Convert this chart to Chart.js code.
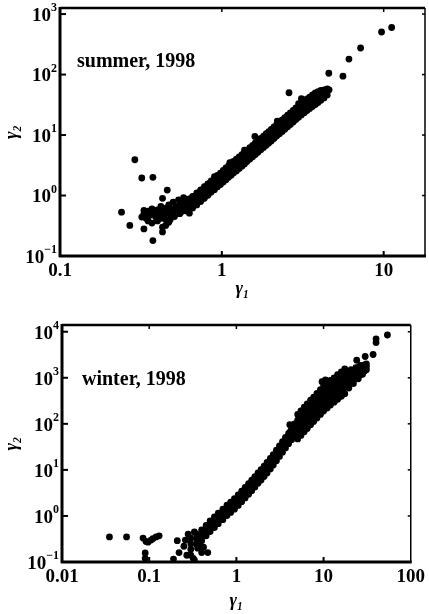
<!DOCTYPE html>
<html>
<head>
<meta charset="utf-8">
<script src="https://cdn.jsdelivr.net/npm/chart.js@4"></script>
<style>
  html, body { margin: 0; padding: 0; background: #fff; }
  canvas { display: block; }
</style>
</head>
<body>
<canvas id="summer" width="429" height="300"></canvas>
<canvas id="winter" width="429" height="314"></canvas>
<script>
// summer 1998: gamma1 vs gamma2
const summerBand = [
  [0.60,0.56],[0.60,0.66],[0.60,0.78],[0.64,0.63],[0.64,0.75],[0.64,0.89],
  [0.68,0.70],[0.68,0.83],[0.68,0.98],[0.72,0.79],[0.72,0.94],[0.72,1.11],
  [0.76,0.89],[0.76,1.06],[0.76,1.25],[0.80,1.00],[0.80,1.20],[0.80,1.42],
  [0.84,1.12],[0.84,1.34],[0.84,1.58],[0.88,1.25],[0.88,1.49],[0.88,1.76],
  [0.92,1.38],[0.92,1.65],[0.92,1.95],[0.96,1.52],[0.96,1.82],[0.96,2.15],
  [1.00,1.68],[1.00,2.00],[1.00,2.36],[1.04,1.84],[1.04,2.19],[1.04,2.58],
  [1.08,2.00],[1.08,2.39],[1.08,2.82],[1.12,2.18],[1.12,2.60],[1.12,3.07],
  [1.16,2.37],[1.16,2.82],[1.16,3.33],[1.20,2.55],[1.20,3.04],[1.20,3.60],
  [1.25,2.80],[1.25,3.35],[1.25,3.95],[1.30,3.08],[1.30,3.67],[1.30,4.33],
  [1.35,3.36],[1.35,4.00],[1.35,4.72],[1.40,3.62],[1.40,4.30],[1.40,5.10],
  [1.46,4.00],[1.46,4.80],[1.46,5.65],[1.52,4.38],[1.52,5.20],[1.52,6.15],
  [1.58,4.80],[1.58,5.70],[1.58,6.72],[1.64,5.20],[1.64,6.20],[1.64,7.30],
  [1.70,5.70],[1.70,6.80],[1.70,8.00],[1.77,6.25],[1.77,7.40],[1.77,8.75],
  [1.84,6.80],[1.84,8.10],[1.84,9.60],[1.91,7.40],[1.91,8.80],[1.91,10.4],
  [1.98,8.05],[1.98,9.60],[1.98,11.3],[2.06,8.80],[2.06,10.5],[2.06,12.4],
  [2.14,9.60],[2.14,11.5],[2.14,13.5],[2.22,10.5],[2.22,12.5],[2.22,14.7],
  [2.31,11.5],[2.31,13.7],[2.31,16.1],[2.40,12.5],[2.40,14.9],[2.40,17.6],
  [2.50,13.7],[2.50,16.4],[2.50,19.3],[2.60,15.0],[2.60,17.9],[2.60,21.1],
  [2.70,16.4],[2.70,19.6],[2.70,23.1],[2.81,18.0],[2.81,21.5],[2.81,25.3],
  [2.92,19.7],[2.92,23.5],[2.92,27.7],[3.04,21.6],[3.04,25.8],[3.04,30.4],
  [3.16,23.6],[3.16,28.0],[3.16,33.0],[3.29,25.8],[3.29,30.5],[3.29,35.8],
  [3.42,28.0],[3.42,33.0],[3.42,38.5],[3.56,30.5],[3.56,35.5],[3.56,41.5],
  [3.70,33.0],[3.70,38.5],[3.70,44.5],[3.85,36.0],[3.85,41.5],[3.85,47.5],
  [4.00,39.0],[4.00,44.0],[4.00,50.0],[4.18,42.5],[4.18,47.5],[4.18,53.0],
  [4.38,46.0],[4.38,51.0],[4.38,55.0],[4.60,56.0]
];
// second, staggered pass over the band to give it its scanned thickness
const summerBandEdge = [
  [0.62,0.55],[0.62,0.87],[0.66,0.62],[0.66,0.97],[0.70,0.70],[0.70,1.10],
  [0.74,0.80],[0.74,1.24],[0.78,0.90],[0.78,1.40],[0.82,1.01],[0.82,1.56],
  [0.86,1.14],[0.86,1.75],[0.90,1.25],[0.90,2.05],[0.94,1.40],[0.94,2.15],
  [0.98,1.52],[0.98,2.35],[1.02,1.68],[1.02,2.60],[1.06,1.83],[1.06,2.85],
  [1.10,2.00],[1.10,3.10],[1.14,2.17],[1.14,3.45],[1.18,2.35],[1.18,3.65],
  [1.23,2.55],[1.23,3.98],[1.28,2.80],[1.28,4.35],[1.33,3.06],[1.33,4.75],
  [1.38,3.32],[1.38,5.60],[1.43,3.64],[1.43,5.65],[1.49,4.00],[1.49,6.20],
  [1.55,4.36],[1.55,6.75],[1.61,4.76],[1.61,7.40],[1.67,5.20],[1.67,8.10],
  [1.74,5.70],[1.74,8.80],[1.81,6.20],[1.81,9.60],[1.88,6.75],[1.88,10.5],
  [1.95,7.35],[1.95,11.4],[2.02,8.00],[2.02,12.4],[2.10,8.80],[2.10,13.6],
  [2.18,9.60],[2.18,14.9],[2.27,10.5],[2.27,16.3],[2.36,11.4],[2.36,17.8],
  [2.45,12.5],[2.45,19.4],[2.55,13.7],[2.55,21.3],[2.65,15.0],[2.65,23.3],
  [2.76,16.4],[2.76,25.5],[2.87,18.0],[2.87,28.0],[2.98,19.7],[2.98,33.0],
  [3.10,21.5],[3.10,33.5],[3.23,23.4],[3.23,36.3],[3.36,25.4],[3.36,39.4],
  [3.49,27.4],[3.49,42.5],[3.63,29.6],[3.63,46.0],[3.78,32.0],[3.78,49.5],
  [3.93,34.5],[3.93,52.0],[4.09,37.5],[4.09,54.5],[4.28,41.0],[4.28,56.0],
  [4.48,46.0],[4.48,58.0],[2.20,17.0],[1.12,3.50]
];
const summerLow = [
  [0.33,0.50],[0.34,0.42],[0.35,0.55],[0.35,0.38],[0.36,0.47],[0.37,0.60],
  [0.37,0.35],[0.38,0.52],[0.39,0.44],[0.40,0.58],[0.40,0.38],[0.41,0.50],
  [0.42,0.66],[0.42,0.42],[0.43,0.55],[0.44,0.47],[0.45,0.62],[0.45,0.40],
  [0.46,0.54],[0.47,0.70],[0.48,0.48],[0.49,0.60],[0.50,0.78],[0.50,0.52],
  [0.52,0.66],[0.53,0.58],[0.54,0.85],[0.55,0.70],[0.56,0.60],[0.57,0.78],
  [0.58,0.92],[0.58,0.66],[0.45,0.32],[0.47,0.36],[0.43,0.30],[0.63,0.51],
  [0.51,0.45],[0.55,0.50],[0.57,0.55],[0.48,0.40]
];
const summerOutliers = [
  [0.24,0.53],[0.27,0.32],[0.29,3.9],[0.32,1.95],[0.375,2.0],[0.32,0.44],
  [0.33,0.57],[0.33,0.28],[0.375,0.18],[0.43,0.25],[0.46,1.23],[0.43,0.9],
  [1.6,9.5],[2.6,50],[3.1,40],[4.58,105],[5.6,94],[6.1,180],[7.2,275],
  [9.7,505],[11.2,600]
];

// winter 1998
const winterBand = [
  [0.30,0.19],[0.30,0.25],[0.30,0.33],[0.35,0.24],[0.35,0.31],[0.35,0.40],
  [0.40,0.29],[0.40,0.38],[0.40,0.50],[0.45,0.37],[0.45,0.48],[0.45,0.62],
  [0.50,0.46],[0.50,0.60],[0.50,0.78],[0.56,0.56],[0.56,0.73],[0.56,0.95],
  [0.62,0.68],[0.62,0.88],[0.62,1.15],[0.70,0.83],[0.70,1.08],[0.70,1.40],
  [0.78,1.02],[0.78,1.32],[0.78,1.72],[0.86,1.19],[0.86,1.55],[0.86,2.0],
  [0.95,1.40],[0.95,1.82],[0.95,2.37],[1.05,1.69],[1.05,2.2],[1.05,2.86],
  [1.15,2.04],[1.15,2.65],[1.15,3.45],[1.26,2.46],[1.26,3.2],[1.26,4.16],
  [1.38,2.96],[1.38,3.85],[1.38,5.0],[1.50,3.54],[1.50,4.6],[1.50,6.0],
  [1.63,4.23],[1.63,5.5],[1.63,7.15],[1.77,5.1],[1.77,6.6],[1.77,8.6],
  [1.92,6.0],[1.92,7.8],[1.92,10.1],[2.08,7.15],[2.08,9.3],[2.08,12.1],
  [2.25,8.6],[2.25,11.2],[2.25,14.6],[2.45,10.5],[2.45,13.6],[2.45,17.7],
  [2.65,12.7],[2.65,16.5],[2.65,21.5],[2.88,15.8],[2.88,20.5],[2.88,26.7],
  [3.12,19.6],[3.12,25.5],[3.12,33.2],[3.38,24.2],[3.38,31.5],[3.38,41],
  [3.66,30],[3.66,39],[3.66,51],[3.97,37],[3.97,48],[3.97,62],
  [4.30,45],[4.30,59],[4.30,77],[4.66,52],[4.66,73],[4.66,100],
  [5.05,47],[5.05,67],[5.05,90],[5.05,121],[5.05,160],
  [5.50,56],[5.50,79],[5.50,107],[5.50,144],[5.50,190],
  [6.0,67],[6.0,95],[6.0,128],[6.0,173],[6.0,230],
  [6.5,79],[6.5,111],[6.5,150],[6.5,203],[6.5,270],
  [7.1,95],[7.1,133],[7.1,180],[7.1,243],[7.1,325],
  [7.7,112],[7.7,157],[7.7,212],[7.7,286],[7.7,380],
  [8.4,134],[8.4,189],[8.4,255],[8.4,344],[8.4,460],
  [9.2,160],[9.2,226],[9.2,305],[9.2,412],[9.2,550],
  [10.0,190],[10.0,267],[10.0,360],[10.0,486],[10.0,650],
  [11.0,221],[11.0,311],[11.0,420],[11.0,567],[11.0,755],
  [12.0,255],[12.0,359],[12.0,485],[12.0,655],[12.0,875],
  [13.2,295],[13.2,415],[13.2,560],[13.2,756],[13.2,1000],
  [14.5,342],[14.5,481],[14.5,650],[14.5,878],[14.5,1170],
  [16.0,395],[16.0,556],[16.0,750],[16.0,1010],[16.0,1350],
  [17.5,450],[17.5,637],[17.5,860],[17.5,1160],[17.5,1550],
  [19.5,600],[19.5,740],[19.5,1000],[19.5,1350],
  [22,750],[22,900],[22,1150],[22,1450],
  [25,950],[25,1150],[25,1350],[25,1650],
  [28,1200],[28,1550],[28,1800],[31,1500],[31,1750],[31,2000],
  [9.6,820],[10.5,900]
];
// staggered fill of the wide upper cloud
const winterCloud = [
  [5.28,61],[5.28,85],[5.28,113],[5.28,157],
  [5.75,73],[5.75,102],[5.75,135],[5.75,187],
  [6.25,87],[6.25,121],[6.25,160],[6.25,222],
  [6.8,103],[6.8,143],[6.8,190],[6.8,264],
  [7.4,122],[7.4,170],[7.4,225],[7.4,314],
  [8.05,146],[8.05,203],[8.05,268],[8.05,373],
  [8.8,175],[8.8,243],[8.8,322],[8.8,448],
  [9.6,207],[9.6,289],[9.6,531],
  [10.5,244],[10.5,339],[10.5,624],
  [11.5,282],[11.5,393],[11.5,520],[11.5,723],
  [12.6,326],[12.6,454],[12.6,600],[12.6,835],
  [13.85,378],[13.85,526],[13.85,696],[13.85,968],
  [15.2,437],[15.2,609],[15.2,805],[15.2,1120],
  [16.7,503],[16.7,700],[16.7,926],[16.7,1290],
  [18.5,640],[18.5,810],[18.5,1070],[18.5,1400],
  [20.7,780],[20.7,935],[20.7,1240],[20.7,1500],
  [23.5,950],[23.5,1090],[23.5,1420],[23.5,1650],
  [26.5,1150],[26.5,1300],[26.5,1600],[26.5,1850],
  [29.5,1400],[29.5,1550],[29.5,1900],
  [4.48,62],[4.48,88],[4.15,52],[4.15,68]
];
const winterOutliers = [
  [0.035,0.35],[0.055,0.35],[0.085,0.33],[0.092,0.28],[0.097,0.27],[0.105,0.30],
  [0.11,0.32],[0.12,0.35],[0.13,0.37],[0.09,0.157],[0.09,0.12],[0.21,0.29],
  [0.22,0.16],[0.19,0.116],[0.32,0.12],[0.47,0.16],[0.25,0.22],[0.27,0.14],
  [0.28,0.40],[0.33,0.11],[0.36,0.2],[0.40,0.16],[0.30,0.14],[0.26,0.30],
  [0.33,0.45],[0.38,0.25],[0.42,0.21],[4.1,96],
  [24,2400],[30,2900],[37,3200],[40,5800],[40,7000],[54,8500]
];

const summerXTicks = [0.1, 1, 10];
const summerXLabels = ['0.1', '1', '10'];
const summerYTicks = [0.1, 1, 10, 100, 1000];
const summerYExp = ['\u22121', '0', '1', '2', '3'];

const winterXTicks = [0.01, 0.1, 1, 10, 100];
const winterXLabels = ['0.01', '0.1', '1', '10', '100'];
const winterYTicks = [0.1, 1, 10, 100, 1000, 10000];
const winterYExp = ['\u22121', '0', '1', '2', '3', '4'];

const SERIF = '"Liberation Serif", "DejaVu Serif", serif';

function line(ctx, x1, y1, x2, y2, w) {
  ctx.lineWidth = w;
  ctx.beginPath();
  ctx.moveTo(x1, y1);
  ctx.lineTo(x2, y2);
  ctx.stroke();
}

const framePlugin = {
  id: 'frame',
  afterDraw(chart, args, opts) {
    const { ctx, chartArea: a, scales: { x, y } } = chart;
    ctx.save();
    ctx.strokeStyle = '#000';
    ctx.fillStyle = '#000';
    // frame
    line(ctx, a.left, a.top - 1, a.left, a.bottom + 1, 3);
    line(ctx, a.left - 1, a.bottom, a.right + 1, a.bottom, 3);
    line(ctx, a.left, a.top, a.right, a.top, 2.5);
    line(ctx, a.right, a.top, a.right, a.bottom, 1.5);
    // inward tick marks
    opts.xTicks.forEach(v => {
      const px = x.getPixelForValue(v);
      if (px > a.left + 2 && px < a.right - 2) {
        line(ctx, px, a.bottom, px, a.bottom - 5, 2);
        line(ctx, px, a.top, px, a.top + 4, 1.5);
      }
    });
    opts.yTicks.forEach((v, i) => {
      const py = y.getPixelForValue(v);
      if (py > a.top + 2 && py < a.bottom - 2) {
        line(ctx, a.left, py, a.left + 6, py, 2);
        line(ctx, a.right, py, a.right - 3, py, 1.5);
      }
      // y tick label: 10 with exponent
      ctx.textBaseline = 'middle';
      ctx.textAlign = 'left';
      ctx.font = 'bold 12px ' + SERIF;
      const ew = ctx.measureText(opts.yExp[i]).width;
      ctx.font = 'bold 19px ' + SERIF;
      const bw = ctx.measureText('10').width;
      const xEnd = a.left - 3;
      ctx.fillText('10', xEnd - ew - bw, py + 2);
      ctx.font = 'bold 12px ' + SERIF;
      ctx.fillText(opts.yExp[i], xEnd - ew, py - 6);
    });
    // season note
    ctx.font = 'bold 20px ' + SERIF;
    ctx.textAlign = 'left';
    ctx.textBaseline = 'middle';
    ctx.fillText(opts.note, a.left + opts.noteDx, a.top + opts.noteDy);
    ctx.restore();
  }
};

function makeChart(id, sets, cfg) {
  return new Chart(document.getElementById(id), {
    type: 'scatter',
    data: {
      datasets: sets.map(s => ({
        data: s.map(p => ({ x: p[0], y: p[1] })),
        backgroundColor: '#000',
        borderWidth: 0,
        pointRadius: 3.4,
        pointHoverRadius: 3.4
      }))
    },
    options: {
      responsive: false,
      animation: false,
      layout: { padding: cfg.padding },
      plugins: {
        legend: { display: false },
        tooltip: { enabled: false },
        frame: {
          xTicks: cfg.xTicks, yTicks: cfg.yTicks, yExp: cfg.yExp,
          note: cfg.note, noteDx: cfg.noteDx, noteDy: cfg.noteDy
        }
      },
      scales: {
        x: {
          type: 'logarithmic',
          min: cfg.xMin, max: cfg.xMax,
          afterBuildTicks: s => { s.ticks = cfg.xTicks.map(v => ({ value: v })); },
          afterFit: s => { s.height = cfg.xHeight; },
          grid: { display: false, drawTicks: false },
          border: { display: false },
          ticks: {
            autoSkip: false, maxRotation: 0, padding: 4, color: '#000',
            font: { family: SERIF, size: 19, weight: 'bold' },
            callback: (v, i) => cfg.xLabels[i]
          },
          title: {
            display: true, text: 'γ₁', color: '#000',
            font: { family: SERIF, size: 18, style: 'italic', weight: 'bold' },
            padding: { top: 0, bottom: cfg.xTitlePad }
          }
        },
        y: {
          type: 'logarithmic',
          min: cfg.yMin, max: cfg.yMax,
          afterBuildTicks: s => { s.ticks = cfg.yTicks.map(v => ({ value: v })); },
          afterFit: s => { s.width = cfg.yWidth; },
          grid: { display: false, drawTicks: false },
          border: { display: false },
          ticks: { display: false },
          title: {
            display: true, text: 'γ₂', color: '#000',
            font: { family: SERIF, size: 18, style: 'italic', weight: 'bold' },
            padding: { top: 2, bottom: 0 }
          }
        }
      }
    },
    plugins: [framePlugin]
  });
}

makeChart('summer', [summerBand, summerBandEdge, summerLow, summerOutliers], {
  padding: { top: 8, right: 4, left: 0, bottom: 0 },
  xMin: 0.1, xMax: 18, yMin: 0.1, yMax: 1260,
  xTicks: summerXTicks, xLabels: summerXLabels,
  yTicks: summerYTicks, yExp: summerYExp,
  xHeight: 44, yWidth: 60, xTitlePad: 0,
  note: 'summer, 1998', noteDx: 17, noteDy: 54
});

makeChart('winter', [winterBand, winterCloud, winterOutliers], {
  padding: { top: 25, right: 14, left: 0, bottom: 0 },
  xMin: 0.01, xMax: 100, yMin: 0.1, yMax: 14000,
  xTicks: winterXTicks, xLabels: winterXLabels,
  yTicks: winterYTicks, yExp: winterYExp,
  xHeight: 52, yWidth: 62, xTitlePad: 2,
  note: 'winter, 1998', noteDx: 20, noteDy: 55
});
</script>
</body>
</html>
